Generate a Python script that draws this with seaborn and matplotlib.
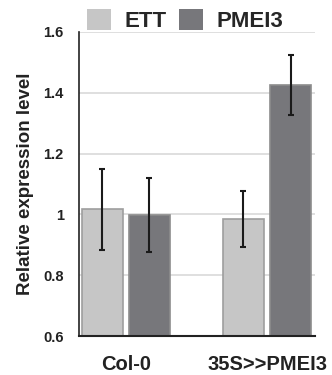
import numpy as np
import pandas as pd
import matplotlib
matplotlib.use("Agg")
import matplotlib.pyplot as plt
import seaborn as sns
from matplotlib.patches import Patch

# Data
genotypes = ["Col-0", "35S>>PMEI3"]
genes = ["ETT", "PMEI3"]
ett_mean = [1.017, 0.985]
ett_err = [0.133, 0.093]
pmei3_mean = [0.997, 1.425]
pmei3_err = [0.122, 0.098]
yticks = [0.6, 0.8, 1.0, 1.2, 1.4, 1.6]
yticklabels = ["0.6", "0.8", "1", "1.2", "1.4", "1.6"]

df = pd.DataFrame({
    "genotype": genotypes * 2,
    "gene": ["ETT"] * 2 + ["PMEI3"] * 2,
    "value": ett_mean + pmei3_mean,
    "err": ett_err + pmei3_err,
})

fill = {"ETT": "#c6c6c6", "PMEI3": "#77777b"}
edge = {"ETT": "#9e9e9e", "PMEI3": "#8c8c8c"}

sns.set_style("white")
plt.rcParams["font.family"] = ["Liberation Sans", "DejaVu Sans"]
plt.rcParams["font.weight"] = "bold"

fig = plt.figure(figsize=(3.32, 3.75), dpi=100)
ax = fig.add_axes([0.238, 0.104, 0.711, 0.811])

sns.barplot(data=df, x="genotype", y="value", hue="gene", order=genotypes,
            hue_order=genes, palette=fill, width=0.667, gap=0.13,
            errorbar=None, legend=False, ax=ax, zorder=2)

# edges + error bars
for cont, g in zip(ax.containers, genes):
    sub = df[df["gene"] == g].set_index("genotype").loc[genotypes]
    xs = []
    for p in cont.patches:
        p.set_edgecolor(edge[g])
        p.set_linewidth(1.2)
        xs.append(p.get_x() + p.get_width() / 2)
    ax.errorbar(xs, sub["value"], yerr=sub["err"], fmt="none", ecolor="#1a1a1a",
                elinewidth=1.5, capsize=2.5, capthick=1.5, zorder=3)

ax.set_ylim(0.6, 1.6)
ax.set_xlim(-0.33, 1.34)
ax.set_yticks(yticks)
ax.set_yticklabels(yticklabels, fontsize=10.5, fontweight="bold", color="#222222")
ax.yaxis.grid(True, color="#d9d9d9", linewidth=1.2, zorder=0)
ax.set_axisbelow(True)
ax.tick_params(axis="y", length=0, pad=11)
ax.tick_params(axis="x", length=0, pad=14, labelsize=14.5)
for lbl in ax.get_xticklabels():
    lbl.set_fontweight("bold")
    lbl.set_color("#222222")
ax.set_xlabel("")
ax.set_ylabel("Relative expression level", fontsize=13.5, fontweight="bold",
              color="#222222", labelpad=7)

for s in ["top", "right"]:
    ax.spines[s].set_visible(False)
ax.spines["left"].set_color("#222222")
ax.spines["left"].set_linewidth(1.2)
ax.spines["bottom"].set_color("#222222")
ax.spines["bottom"].set_linewidth(1.5)

handles = [Patch(facecolor=fill[g], edgecolor="none", label=g) for g in genes]
fig.legend(handles=handles, loc="center", bbox_to_anchor=(0.557, 0.945), ncol=2,
           frameon=False, prop={"size": 16, "weight": "bold"},
           handlelength=1.1, handleheight=1.1, handletextpad=0.6,
           columnspacing=0.55, borderpad=0)

fig.savefig("out.png", dpi=100)
